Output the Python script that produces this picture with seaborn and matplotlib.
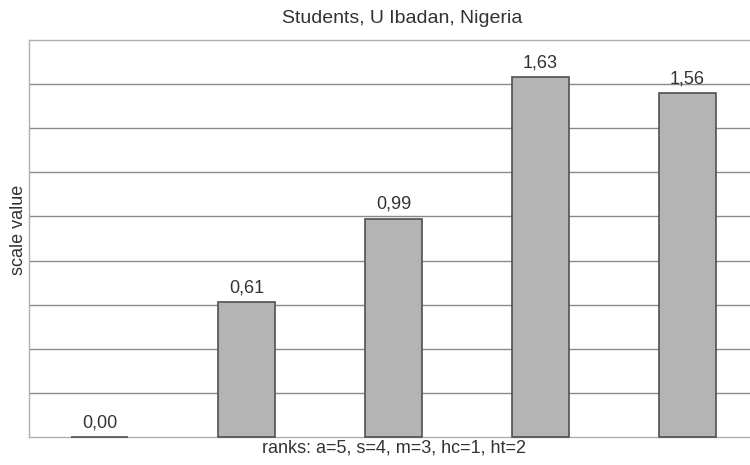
import matplotlib
matplotlib.use('Agg')
import matplotlib.pyplot as plt
import seaborn as sns
import pandas as pd

# scale values per item, in rank label order
items = ['a', 's', 'm', 'hc', 'ht']
values = [0.00, 0.61, 0.99, 1.63, 1.56]
labels = ['0,00', '0,61', '0,99', '1,63', '1,56']

sns.set_style('white')
plt.rcParams['font.family'] = ['Liberation Sans', 'DejaVu Sans']

data = pd.DataFrame({'item': items, 'value': values})

fig = plt.figure(figsize=(7.5, 4.65), dpi=100)
ax = fig.add_axes([29 / 750, 28 / 465, 729 / 750, 397 / 465])

sns.barplot(x='item', y='value', data=data, order=items,
            color='#b4b4b4', edgecolor='#505050', linewidth=1.2,
            width=0.39, saturation=1, ax=ax)
for p in ax.patches:
    p.set_zorder(4)
    p.set_clip_on(False)

for i, (v, t) in enumerate(zip(values, labels)):
    ax.text(i, v + 0.044, t, ha='center', va='baseline', fontsize=13, color='#333333')

ax.set_ylim(0, 1.8)
ax.set_xlim(-0.48, 4.48)
ax.set_yticks([0.2 * k for k in range(1, 9)])
ax.yaxis.grid(True, color='#8a8a8a', linewidth=1.0)
ax.set_axisbelow(True)
ax.tick_params(left=False, bottom=False, labelleft=False, labelbottom=False)
for s in ax.spines.values():
    s.set_color('#b0b0b0')
    s.set_linewidth(1.0)

ax.set_xlabel('ranks: a=5, s=4, m=3, hc=1, ht=2', fontsize=13, color='#333333', labelpad=2)
ax.set_ylabel('scale value', fontsize=13, color='#333333', labelpad=1.5)
ax.yaxis.label.set_y(0.522)
fig.text(402 / 750, 1 - 23.3 / 465, 'Students, U Ibadan, Nigeria', ha='center', va='baseline',
         fontsize=14, color='#333333')

fig.savefig('out.png', dpi=100)
